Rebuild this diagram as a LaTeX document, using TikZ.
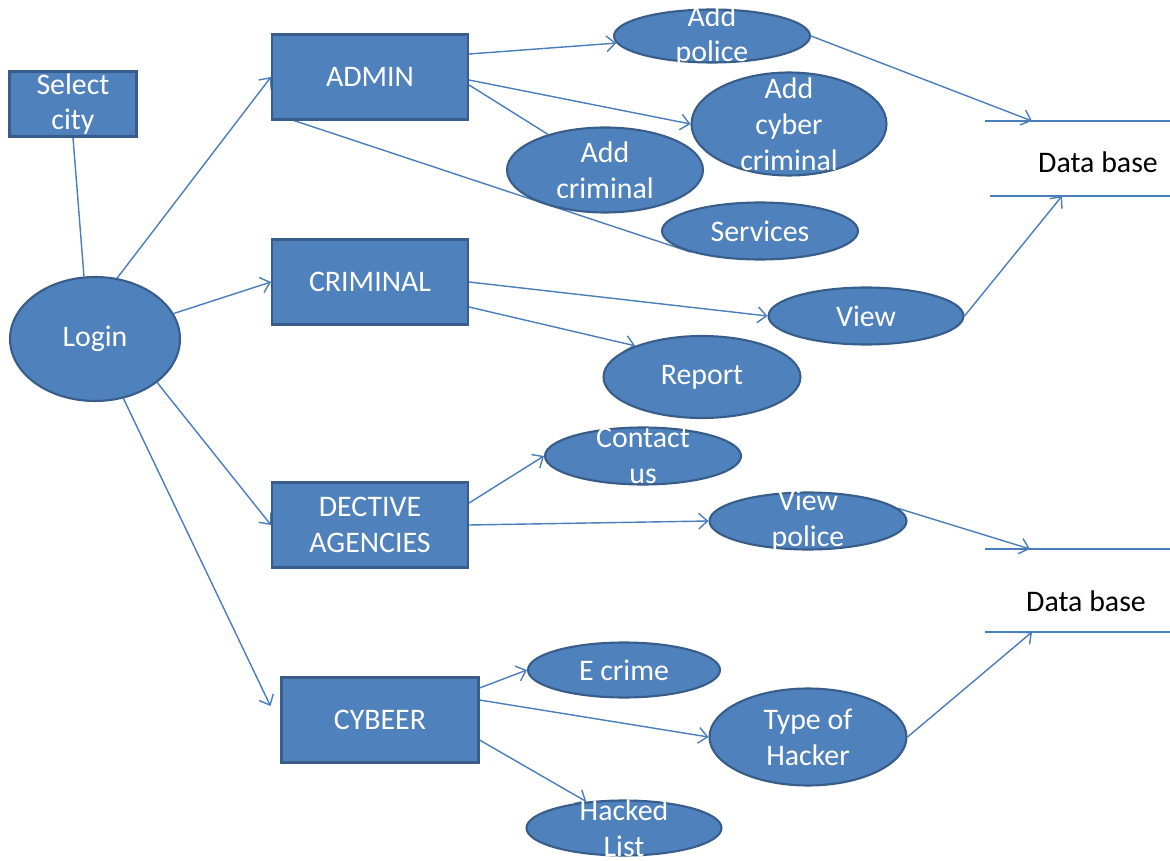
\documentclass[tikz,border=0pt]{standalone}
\usepackage{fontspec}
\setmainfont{Carlito}
\usetikzlibrary{shapes.geometric,arrows.meta,backgrounds}
\definecolor{boxfill}{HTML}{4F81BD}
\definecolor{boxline}{HTML}{385D8A}
\definecolor{linkcol}{HTML}{4A7EBB}
\newcommand{\labfont}{\fontsize{17}{20.4}\selectfont}

\begin{document}
\begin{tikzpicture}[x=0.02cm, y=-0.02cm,
	box/.style={rectangle, fill=boxfill, draw=boxline, line width=1.2pt, text=white, align=center, font=\labfont, inner sep=0pt, minimum width=3.92cm, minimum height=1.7cm},
	oval/.style={ellipse, fill=boxfill, draw=boxline, line width=1.2pt, inner sep=0pt, text=white, font=\labfont, minimum width=3.92cm, minimum height=1.14cm},
	lbl/.style={text=white, align=center, font=\labfont, inner sep=0pt},
	link/.style={draw=linkcol, line width=0.8pt},
	arr/.style={link, -{Straight Barb[length=5pt, width=9pt]}},
	dbline/.style={draw=linkcol, line width=1pt},
	dbtext/.style={text=black, font=\labfont}]
	
	\useasboundingbox (0,0) rectangle (1170,861);
	
	% LEFT SIDE
	\node[box, minimum width=2.54cm, minimum height=1.3cm] (selcity) at (73,104) {Select\\city};
	\node[oval, minimum width=3.4cm, minimum height=2.48cm] (login) at (95,339) {Login};
	
	% MODULES
	\node[box] (admin)    at (370, 77) {ADMIN};
	\node[box] (criminal) at (370,282) {CRIMINAL};
	\node[box] (dective)  at (370,525) {DECTIVE\\AGENCIES};
	\node[box, minimum width=3.94cm] (cybeer) at (380,720) {CYBEER};
	
	% Admin tasks
	\node[oval, minimum height=1.06cm, label={[lbl]center:{Add\\police}}] (addpolice) at (712,36) {};
	\node[oval, minimum width=3.9cm, minimum height=2.06cm, label={[lbl]center:{Add\\cyber\\criminal}}] (addcyber) at (789,124) {};
	\node[oval, minimum height=1.7cm, label={[lbl]center:{Add\\criminal}}] (addcrim) at (605,170) {};
	\node[oval] (services) at (760,231) {Services};
	
	% Criminal tasks
	\node[oval, minimum width=3.9cm] (view) at (866,316) {View};
	\node[oval, minimum width=3.94cm, minimum height=1.64cm] (report) at (702,377) {Report};
	
	% Agency tasks
	\node[oval, label={[lbl]center:{Contact\\us}}] (contact) at (643,456) {};
	\node[oval, minimum width=3.94cm, label={[lbl]center:{View\\police}}] (viewpol) at (808,521) {};
	
	% Cyber tasks
	\node[oval, minimum width=3.84cm, minimum height=1.1cm] (ecrime) at (624,670) {E crime};
	\node[oval, minimum width=3.94cm, minimum height=1.94cm, label={[lbl]center:{Type of\\Hacker}}] (hacker) at (808,737) {};
	\node[oval, minimum width=3.9cm, minimum height=1.1cm, label={[lbl]center:{Hacked\\List}}] (hacked) at (624,828) {};
	
	% Data stores
	\node[dbtext] (dbone) at (1098,162) {Data base};
	\draw[dbline] (985,121) -- (1170,121);
	\draw[dbline] (990,196) -- (1170,196);
	\coordinate (dboneup)  at (1032,121);
	\coordinate (dbonelow) at (1062,196);
	
	\node[dbtext] (dbtwo) at (1086,601) {Data base};
	\draw[dbline] (985,549) -- (1170,549);
	\draw[dbline] (985,632) -- (1170,632);
	\coordinate (dbtwoup)  at (1030,549);
	\coordinate (dbtwolow) at (1032,632);
	
	% CONNECTORS
	\begin{scope}[on background layer]
	\draw[link] (selcity.south) -- (login.100);
	\draw[arr] (login.70) -- (admin.west);
	\draw[arr] (login) -- (criminal.west);
	\draw[arr] (login.-35) -- (dective.west);
	\draw[arr] (login) -- ([xshift=-0.2cm, yshift=0.28cm]cybeer.west);
	
	\draw[arr] ([yshift=0.46cm]admin.east) -- (addpolice);
	\draw[arr] ([yshift=-0.06cm]admin.east) -- (addcyber.west);
	\draw[link] ([yshift=-0.16cm]admin.east) -- (addcrim.148);
	\draw[link] ([xshift=0.46cm]admin.south west) -- (services.197);
	\draw[arr] (addpolice.east) -- (dboneup);
	
	\draw[arr] (criminal.east) -- (view.west);
	\draw[arr] ([yshift=-0.5cm]criminal.east) -- (report.155);
	\draw[arr] (view.east) -- (dbonelow);
	
	\draw[arr] ([yshift=0.44cm]dective.east) -- (contact.west);
	\draw[arr] (dective.east) -- (viewpol.west);
	\draw[arr] (viewpol.8) -- (dbtwoup);
	
	\draw[arr] ([yshift=0.64cm]cybeer.east) -- (ecrime.west);
	\draw[arr] ([yshift=0.4cm]cybeer.east) -- (hacker.west);
	\draw[arr] ([yshift=-0.4cm]cybeer.east) -- (hacked.145);
	\draw[arr] (hacker.east) -- (dbtwolow);
	\end{scope}
	
\end{tikzpicture}
\end{document}
